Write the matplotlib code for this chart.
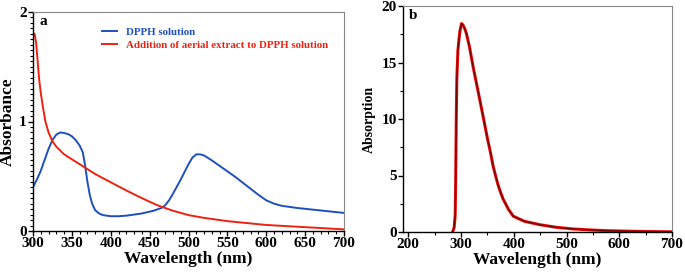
import numpy as np
import matplotlib.pyplot as plt
from matplotlib.ticker import MultipleLocator

# panel a: DPPH spectra
wl_dpph = [300, 305, 310, 315, 320, 325, 330, 335, 340, 345, 350, 355, 360, 364, 367,
           370, 373, 376, 380, 385, 390, 400, 410, 420, 440, 455, 465, 470, 475, 480,
           490, 500, 505, 510, 515, 520, 530, 540, 550, 560, 570, 580, 590, 600, 610,
           620, 640, 660, 680, 700]
abs_dpph = [0.40, 0.47, 0.55, 0.65, 0.75, 0.83, 0.88, 0.90, 0.895, 0.885, 0.865, 0.83,
            0.78, 0.72, 0.60, 0.45, 0.33, 0.25, 0.19, 0.16, 0.145, 0.135, 0.135, 0.14,
            0.16, 0.185, 0.21, 0.235, 0.28, 0.34, 0.47, 0.61, 0.67, 0.70, 0.70, 0.69,
            0.645, 0.595, 0.545, 0.495, 0.44, 0.385, 0.33, 0.28, 0.25, 0.23, 0.21,
            0.195, 0.18, 0.165]

wl_extract = [302, 304, 306, 308, 310, 313, 316, 320, 325, 330, 340, 350, 360, 370,
              380, 400, 420, 440, 460, 480, 500, 520, 550, 600, 650, 700]
abs_extract = [1.80, 1.72, 1.55, 1.38, 1.26, 1.12, 1.00, 0.90, 0.82, 0.77, 0.70, 0.655,
               0.61, 0.565, 0.52, 0.445, 0.37, 0.30, 0.235, 0.185, 0.145, 0.12, 0.09,
               0.055, 0.035, 0.015]

# panel b: extract absorption
wl_b = [284, 287, 289, 290, 291, 292, 294, 296, 298, 301, 304, 307, 310, 316, 323, 330,
        336, 342, 350, 356, 361, 366, 370, 375, 380, 390, 399, 420, 449, 480, 512, 550,
        576, 620, 660, 700]
abs_b = [0.0, 0.4, 1.5, 5.0, 10.0, 13.5, 16.0, 17.0, 17.8, 18.45, 18.3, 18.0, 17.6, 16.4,
         14.6, 13.0, 11.6, 10.2, 8.3, 7.0, 5.8, 4.9, 4.2, 3.5, 2.9, 2.0, 1.4, 0.95, 0.65,
         0.42, 0.27, 0.17, 0.12, 0.07, 0.04, 0.02]

plt.rcParams['font.family'] = ['Liberation Serif', 'DejaVu Serif']
plt.rcParams['font.weight'] = 'bold'
plt.rcParams['axes.labelweight'] = 'bold'

fig = plt.figure(figsize=(6.85, 2.73), dpi=100)
ax1 = fig.add_axes([33 / 685, 1 - 231 / 273, 311 / 685, 219 / 273])
ax2 = fig.add_axes([403 / 685, 1 - 232 / 273, 269 / 685, 226 / 273])

ax1.plot(wl_dpph, abs_dpph, color='#1f4fbf', lw=1.4, label='DPPH solution')
ax1.plot(wl_extract, abs_extract, color='#ee2211', lw=1.4,
         label='Addition of aerial extract to DPPH solution')
ax1.set_xlim(300, 700)
ax1.set_ylim(0, 2)
ax1.xaxis.set_major_locator(MultipleLocator(50))
ax1.xaxis.set_minor_locator(MultipleLocator(10))
ax1.yaxis.set_major_locator(MultipleLocator(1))
ax1.yaxis.set_minor_locator(MultipleLocator(0.05))
ax1.set_xlabel('Wavelength (nm)', fontsize=12.5, fontweight='bold', labelpad=0.5)
ax1.set_ylabel('Absorbance', fontsize=12.5, fontweight='bold', labelpad=2)
ax1.text(0.02, 0.985, 'a', transform=ax1.transAxes, fontsize=11, fontweight='bold',
         va='top', ha='left')
leg = ax1.legend(loc='upper left', bbox_to_anchor=(0.19, 0.975), frameon=False,
                 prop={'size': 7.8, 'weight': 'bold'}, handlelength=1.4,
                 handletextpad=0.8, labelspacing=0.3,
                 labelcolor=['#1f4fbf', '#ee2211'])

ax2.plot(wl_b, abs_b, color='#ee1111', lw=2.2)
ax2.plot(wl_b, abs_b, color='#7a0000', lw=1.0)
ax2.set_xlim(190, 700)
ax2.set_ylim(0, 20)
ax2.xaxis.set_major_locator(MultipleLocator(100))
ax2.xaxis.set_minor_locator(MultipleLocator(50))
ax2.yaxis.set_major_locator(MultipleLocator(5))
ax2.yaxis.set_minor_locator(MultipleLocator(2.5))
ax2.set_xlabel('Wavelength (nm)', fontsize=12.5, fontweight='bold', labelpad=0.5)
ax2.set_ylabel('Absorption', fontsize=10, fontweight='bold', labelpad=4)
ax2.text(0.02, 0.985, 'b', transform=ax2.transAxes, fontsize=11, fontweight='bold',
         va='top', ha='left')

for ax in (ax1, ax2):
    for side in ('top', 'right'):
        ax.spines[side].set_color('#888888')
        ax.spines[side].set_linewidth(0.8)
    for side in ('left', 'bottom'):
        ax.spines[side].set_color('black')
        ax.spines[side].set_linewidth(1.0)
    ax.tick_params(which='major', direction='out', length=3.5, width=1.0,
                   labelsize=11, pad=1)
    ax.tick_params(which='minor', direction='out', length=2, width=0.8)

fig.canvas.draw()
for ax in (ax1, ax2):
    for lbl in ax.get_xticklabels() + ax.get_yticklabels():
        lbl.set_fontweight('bold')

fig.savefig('out.png', dpi=100)
